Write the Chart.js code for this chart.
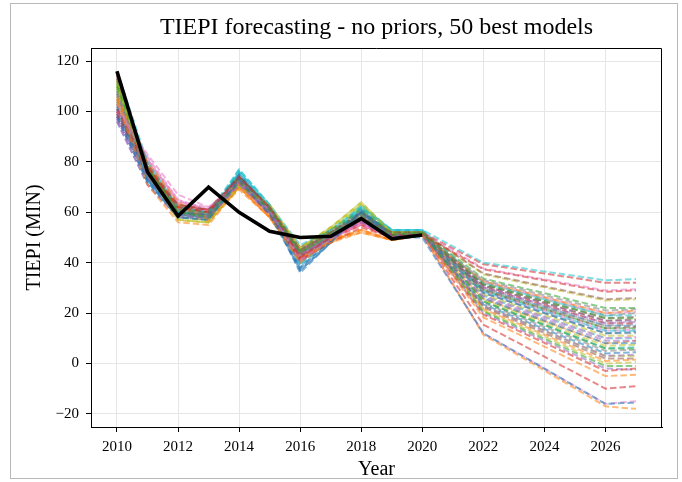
<!DOCTYPE html>
<html><head><meta charset="utf-8">
<script src="https://cdn.jsdelivr.net/npm/chart.js@4.4.1/dist/chart.umd.min.js"></script>
<style>html,body{margin:0;padding:0;background:#fff}#wrap{width:682px;height:482px;position:relative}</style>
</head><body><div id="wrap"><canvas id="c" width="682" height="482"></canvas></div>
<script>
const years = [2010,2011,2012,2013,2014,2015,2016,2017,2018,2019,2020,2021,2022,2023,2024,2025,2026,2027];
const actualYears = [2010,2011,2012,2013,2014,2015,2016,2017,2018,2019,2020];
const actual = [116,76,58.5,70,60,52.5,50,50.5,57.5,49.5,51];
const xTickLabels = [2010,2012,2014,2016,2018,2020,2022,2024,2026];
const yTickLabels = [-20,0,20,40,60,80,100,120];
const palette = ['#1f77b4','#ff7f0e','#2ca02c','#d62728','#9467bd','#8c564b','#e377c2','#7f7f7f','#bcbd22','#17becf'];

const m00 = [98,72,58,57,73,59,37,48,60,50,50, 31,12,5,-2,-9,-16,-15.5];
const m01 = [104,71,56,55,70,58,40,49,53,49,51, 31.5,11.4,4.3,-2.8,-9.9,-17,-18];
const m02 = [110,77,60,58,72,61,44,51,58,51,52, 36.3,20.6,15.2,9.8,4.4,-1,-1];
const m03 = [101,78,62,60,74,62,42,50,57,51,51, 44.2,37.4,35.2,33,30.7,28.5,29];
const m04 = [97,74,59,58,71,60,43,51,56,50,51, 37,22.9,17.9,13,8,3,3.5];
const m05 = [113,79,63,61,74,62,45,52,58,52,52, 43.9,35.7,33.2,30.6,28.1,25.5,26];
const m06 = [100,83,67,62,72,61,41,49,56,50,51, 31.5,12,5,-2,-9,-16,-15];
const m07 = [108,75,61,59,73,60,44,50,59,51,51, 42.1,33.1,30.1,27.1,24,21,21.5];
const m08 = [112,76,57,56,70,63,46,54,64,52,52, 43.7,35.4,32.8,30.2,27.6,25,25.5];
const m09 = [116,80,62,60,77,63,47,53,62,53,53, 46.5,40,38.3,36.5,34.8,33,33.5];
const m10 = [102,73,60,59,75,61,38,49,61,51,51, 39.5,28,24,20,16,12,12.5];
const m11 = [106,80,64,57,69,58,42,48,52,49,51, 34.7,18.3,12.5,6.7,0.8,-5,-4.5];
const m12 = [111,78,61,60,74,62,45,53,61,52,52, 41.7,31.4,28.1,24.7,21.4,18,18];
const m13 = [99,76,63,61,72,59,41,48,54,50,51, 33.2,15.4,9.1,2.7,-3.6,-10,-9];
const m14 = [96,71,58,58,71,60,40,50,57,50,51, 38.7,26.3,22,17.7,13.3,9,9];
const m15 = [114,77,60,59,73,61,44,52,60,52,52, 40.6,29.1,25.3,21.6,17.8,14,14.5];
const m16 = [103,81,64,61,73,62,45,51,57,51,52, 44.9,37.7,35.5,33.4,31.2,29,29.5];
const m17 = [107,74,59,58,72,60,42,51,59,51,51, 40.4,29.7,26,22.4,18.7,15,15.5];
const m18 = [109,75,57,56,70,61,46,54,63,52,52, 39.7,27.4,23.3,19.2,15.1,11,11];
const m19 = [101,72,59,58,76,62,39,50,62,52,52, 40.3,28.6,24.7,20.8,16.9,13,13];
const m20 = [99,73,58,57,74,60,37,48,60,50,51, 37.2,23.4,18.6,13.7,8.9,4,4.5];
const m21 = [105,79,62,58,71,59,41,49,53,49,51, 41.8,32.6,29.4,26.3,23.1,20,21];
const m22 = [112,77,60,59,73,62,44,52,59,51,52, 38.3,24.6,19.9,15.3,10.6,6,6];
const m23 = [100,77,63,61,73,61,43,50,56,51,52, 45.7,39.4,37.6,35.7,33.9,32,32];
const m24 = [98,72,59,59,72,61,41,50,58,50,51, 40.7,30.3,26.7,23.2,19.6,16,16.5];
const m25 = [115,78,61,60,74,62,46,53,59,52,52, 41.5,30.9,27.4,24,20.5,17,17.5];
const m26 = [102,82,65,60,71,60,43,50,55,50,51, 38.9,26.9,22.7,18.5,14.2,10,10.5];
const m27 = [106,75,60,58,72,61,42,51,58,51,51, 37.5,24,19.3,14.5,9.8,5,5.5];
const m28 = [110,76,58,57,71,62,45,53,62,52,52, 38.6,25.1,20.6,16.1,11.5,7,7.5];
const m29 = [104,74,60,59,76,63,40,51,63,53,53, 42.5,32,28.8,25.5,22.3,19,19];
const m30 = [100,74,59,58,75,61,36,48,61,51,51, 38.4,25.7,21.3,16.9,12.4,8,8];
const m31 = [103,77,61,56,70,58,41,49,52,49,51, 36.4,21.7,16.5,11.4,6.2,1,1.5];
const m32 = [109,76,59,59,73,62,43,52,60,52,52, 40.6,29.1,25.3,21.6,17.8,14,14];
const m33 = [98,75,62,60,72,60,42,49,55,50,51, 35.2,19.4,13.8,8.2,2.6,-3,-2];
const m34 = [97,73,60,59,71,60,42,51,57,50,51, 40.9,30.9,27.4,24,20.5,17,17];
const m35 = [113,78,62,61,75,62,45,52,58,52,52, 37.1,22.3,17.2,12.1,7.1,2,2];
const m36 = [101,80,64,62,72,61,44,50,56,51,51, 39.8,28.6,24.7,20.8,16.9,13,13.5];
const m37 = [107,76,61,59,73,60,43,51,59,51,51, 41.5,32,28.8,25.5,22.3,19,20];
const m38 = [111,77,58,57,70,63,46,54,64,52,52, 36.6,21.1,15.8,10.6,5.3,0,0.5];
const m39 = [103,73,59,58,77,63,39,50,62,53,53, 39.9,26.9,22.7,18.5,14.2,10,10];
const m40 = [101,73,59,58,74,61,38,49,60,51,51, 40.4,29.7,26,22.4,18.7,15,15];
const m41 = [105,78,63,57,70,58,41,48,53,49,51, 38.4,25.7,21.3,16.9,12.4,8,9];
const m42 = [112,78,61,60,74,62,44,52,60,52,52, 42.9,33.7,30.8,27.9,24.9,22,22];
const m43 = [100,76,62,61,73,61,43,50,55,50,51, 40.7,30.3,26.7,23.2,19.6,16,16];
const m44 = [96,71,58,58,70,59,41,50,56,50,51, 35.5,20,14.5,9,3.5,-2,-2.5];
const m45 = [114,79,62,60,74,62,45,52,59,52,52, 41.7,31.4,28.1,24.7,21.4,18,18.5];
const m46 = [104,81,65,61,72,61,44,50,56,51,51, 41.8,32.6,29.4,26.3,23.1,20,20.5];
const m47 = [108,75,60,58,72,61,42,51,58,51,51, 39.5,28,24,20,16,12,12];
const m48 = [110,75,57,56,71,62,46,53,63,52,52, 37.5,22.9,17.9,13,8,3,3];
const m49 = [105,74,60,59,76,62,40,51,62,53,53, 38.8,24.6,19.9,15.3,10.6,6,6.5];

const models = [m00,m01,m02,m03,m04,m05,m06,m07,m08,m09,m10,m11,m12,m13,m14,m15,m16,m17,m18,m19,
  m20,m21,m22,m23,m24,m25,m26,m27,m28,m29,m30,m31,m32,m33,m34,m35,m36,m37,m38,m39,
  m40,m41,m42,m43,m44,m45,m46,m47,m48,m49];

function hexA(h, a){const r=parseInt(h.slice(1,3),16),g=parseInt(h.slice(3,5),16),b=parseInt(h.slice(5,7),16);return `rgba(${r},${g},${b},${a})`;}

const datasets = [{
  label: 'TIEPI',
  data: actualYears.map((y,i)=>({x:y,y:actual[i]})),
  borderColor: '#000', borderWidth: 3.6, pointRadius: 0, tension: 0, order: 0, fill: false
}];
models.forEach((m, k) => {
  datasets.push({
    label: 'model ' + (k+1),
    data: years.map((y,i)=>({x:y,y:m[i]})),
    borderColor: hexA(palette[k % 10], 0.55),
    borderWidth: 2, borderDash: [6.5, 3], pointRadius: 0, tension: 0, order: 1, fill: false
  });
});

const serif = "'Liberation Serif','DejaVu Serif',serif";

const framePlugin = {
  id: 'frame',
  afterDraw(chart) {
    const ctx = chart.ctx, a = chart.chartArea;
    ctx.save();
    ctx.strokeStyle = '#000'; ctx.lineWidth = 1;
    const L = Math.round(a.left), R = Math.round(a.right), T = Math.round(a.top), B = Math.round(a.bottom);
    ctx.beginPath();
    ctx.moveTo(L, T + 0.5); ctx.lineTo(R - 0.5, T + 0.5); ctx.lineTo(R - 0.5, B);
    ctx.stroke();
    ctx.strokeStyle = '#b8b8b8';
    ctx.strokeRect(10.5, 3.5, 667, 475);
    ctx.fillStyle = '#000';
    ctx.font = "24px " + serif;
    ctx.textAlign = 'center'; ctx.textBaseline = 'alphabetic';
    ctx.fillText('TIEPI forecasting - no priors, 50 best models', (a.left + a.right) / 2, 34);
    ctx.restore();
  }
};

new Chart(document.getElementById('c'), {
  type: 'line',
  data: { datasets },
  options: {
    responsive: false, animation: false, events: [],
    layout: { padding: { top: 48, right: 20, bottom: 0, left: 0 } },
    plugins: { legend: { display: false }, tooltip: { enabled: false }, title: { display: false } },
    scales: {
      x: {
        type: 'linear', min: 2009.15, max: 2027.85,
        afterBuildTicks: s => { s.ticks = xTickLabels.map(v => ({ value: v })); },
        afterFit: s => { s.height = 55; },
        grid: { color: '#e6e6e6', lineWidth: 1, tickColor: '#000', tickLength: 5, drawTicks: true },
        border: { display: true, color: '#000', width: 1 },
        ticks: { color: '#000', font: { family: serif, size: 15 }, padding: 6, maxRotation: 0, autoSkip: false,
                 callback: v => String(v) },
        title: { display: true, text: 'Year', color: '#000', font: { family: serif, size: 20 }, padding: 0 }
      },
      y: {
        type: 'linear', min: -25.2, max: 125.2,
        afterBuildTicks: s => { s.ticks = yTickLabels.map(v => ({ value: v })); },
        afterFit: s => { s.width = 91; },
        grid: { color: '#e6e6e6', lineWidth: 1, tickColor: '#000', tickLength: 5, drawTicks: true },
        border: { display: true, color: '#000', width: 1 },
        ticks: { color: '#000', font: { family: serif, size: 15 }, padding: 7,
                 callback: v => (v < 0 ? '\u2212' + Math.abs(v) : String(v)) },
        title: { display: true, text: 'TIEPI (MIN)', color: '#000', font: { family: serif, size: 20 }, padding: 23 }
      }
    }
  },
  plugins: [framePlugin]
});
</script>
</body></html>
